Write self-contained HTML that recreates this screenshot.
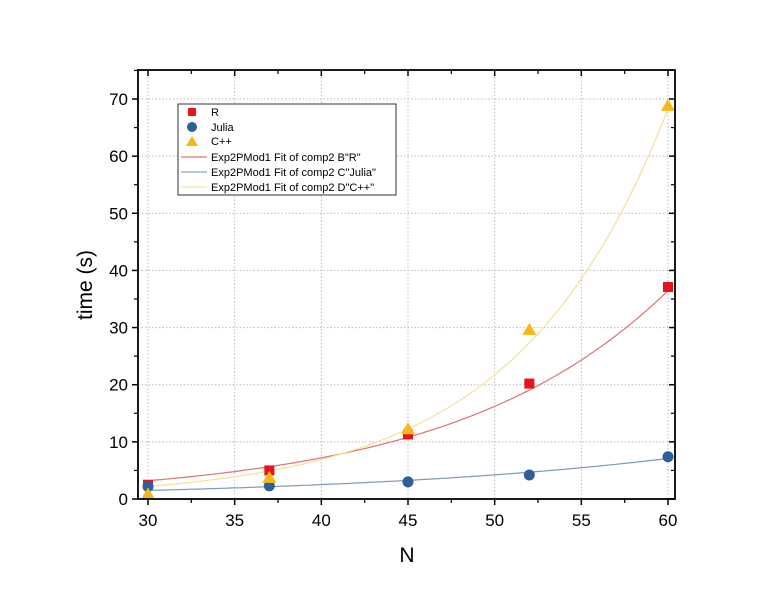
<!DOCTYPE html>
<html><head><meta charset="utf-8"><style>
body{margin:0;background:#fff;}
svg text{font-family:"Liberation Sans",Arial,sans-serif;}
</style></head><body>
<svg width="784" height="600" viewBox="0 0 784 600">
<g id="grid"></g>
<g id="fits"></g>
<g id="marks"></g>
<g id="axes"></g>
<text x="92" y="285" font-size="21" text-anchor="middle" transform="rotate(-90 92 285)">time (s)</text>
<text x="407" y="562" font-size="21" text-anchor="middle">N</text>
<g>
<rect x="178" y="104" width="218" height="91" fill="#fff" stroke="#333" stroke-width="1"/>
<rect x="188" y="108" width="8" height="8" fill="#e8141b"/>
<text x="211" y="116" font-size="11">R</text>
<circle cx="192" cy="127" r="5" fill="#2e5f97"/>
<text x="211" y="131" font-size="11">Julia</text>
<polygon points="192,136 198,146 186,146" fill="#f5b916"/>
<text x="211" y="145" font-size="11">C++</text>
<line x1="181" y1="157" x2="207" y2="157" stroke="#e07070" stroke-width="1.2"/>
<text x="211" y="161" font-size="11">Exp2PMod1 Fit of comp2 B"R"</text>
<line x1="181" y1="172" x2="207" y2="172" stroke="#8da4be" stroke-width="1.2"/>
<text x="211" y="176" font-size="11">Exp2PMod1 Fit of comp2 C"Julia"</text>
<line x1="181" y1="187" x2="207" y2="187" stroke="#f3e3a0" stroke-width="1.2"/>
<text x="211" y="191" font-size="11">Exp2PMod1 Fit of comp2 D"C++"</text>
</g>
</svg>
<script>
const categories=[30,37,45,52,60];
const rValues=[2.5,5.0,11.3,20.2,37.1];
const juliaValues=[2.2,2.3,3.0,4.2,7.4];
const cppValues=[0.8,3.7,12.2,29.6,68.8];
const rFit=[0.281,0.0811];
const juliaFit=[0.317,0.0518];
const cppFit=[0.0709,0.1145];
const xTicks=[30,35,40,45,50,55,60];
const yTicks=[0,10,20,30,40,50,60,70];
const NS="http://www.w3.org/2000/svg";
const L=138,R=675,T=70,B=499;
const X=v=>148+(v-30)*(668-148)/30;
const Y=v=>499-v*(499-99)/70;
function mk(p,tag,a){const e=document.createElementNS(NS,tag);for(const k in a)e.setAttribute(k,a[k]);document.getElementById(p).appendChild(e);return e;}
xTicks.forEach(t=>{
 const g=mk('grid','line',{x1:X(t),x2:X(t),y1:T,y2:B,stroke:'#bbb','stroke-dasharray':'1.5,2'});
 
 
 mk('axes','line',{x1:X(t),x2:X(t),y1:B,y2:B+6,stroke:'#000','stroke-width':1.5});
 mk('axes','line',{x1:X(t),x2:X(t),y1:T,y2:T+6,stroke:'#000','stroke-width':1.5});
 const m=X(t+2.5);
 if(t<60){mk('axes','line',{x1:m,x2:m,y1:B,y2:B+4,stroke:'#000','stroke-width':1.2});mk('axes','line',{x1:m,x2:m,y1:T,y2:T+4,stroke:'#000','stroke-width':1.2});}
 const tx=mk('axes','text',{x:X(t),y:B+27,'font-size':17,'text-anchor':'middle'});tx.textContent=t;
 
 
});
yTicks.forEach(t=>{
 const g=mk('grid','line',{x1:L,x2:R,y1:Y(t),y2:Y(t),stroke:'#bbb','stroke-dasharray':'1.5,2'});
 
 
 mk('axes','line',{x1:L-6,x2:L,y1:Y(t),y2:Y(t),stroke:'#000','stroke-width':1.5});
 mk('axes','line',{x1:R-6,x2:R,y1:Y(t),y2:Y(t),stroke:'#000','stroke-width':1.5});
 const m=Y(t+5);
 if(m>T){mk('axes','line',{x1:L-4,x2:L,y1:m,y2:m,stroke:'#000','stroke-width':1.2});mk('axes','line',{x1:R-4,x2:R,y1:m,y2:m,stroke:'#000','stroke-width':1.2});}
 const tx=mk('axes','text',{x:L-10,y:Y(t)+6,'font-size':17,'text-anchor':'end'});tx.textContent=t;
 
 
});
mk('axes','rect',{x:L,y:T,width:R-L,height:B-T,fill:'none',stroke:'#000','stroke-width':1.8});
function fit(p,col,name){let d='';for(let i=0;i<=120;i++){const x=30+i*30/120;d+=(i?'L':'M')+X(x).toFixed(1)+','+Y(p[0]*Math.exp(p[1]*x)).toFixed(1);}
 const e=mk('fits','path',{d:d,fill:'none',stroke:col,'stroke-width':1.2});
 
 }
fit(rFit,'#e07070','r-fit-curve');fit(juliaFit,'#7d98b8','julia-fit-curve');fit(cppFit,'#f3e09a','cpp-fit-curve');
categories.forEach((c,i)=>{
 const a=mk('marks','rect',{x:X(c)-5,y:Y(rValues[i])-5,width:10,height:10,fill:'#e8141b'});
 
 
 const b=mk('marks','circle',{cx:X(c),cy:Y(juliaValues[i]),r:5.5,fill:'#2e5f97'});
 
 
 const x=X(c),y=Y(cppValues[i]);
 const d=mk('marks','polygon',{points:`${x},${y-7} ${x+7},${y+5} ${x-7},${y+5}`,fill:'#f5b916'});
 
 
});
</script>
</body></html>
